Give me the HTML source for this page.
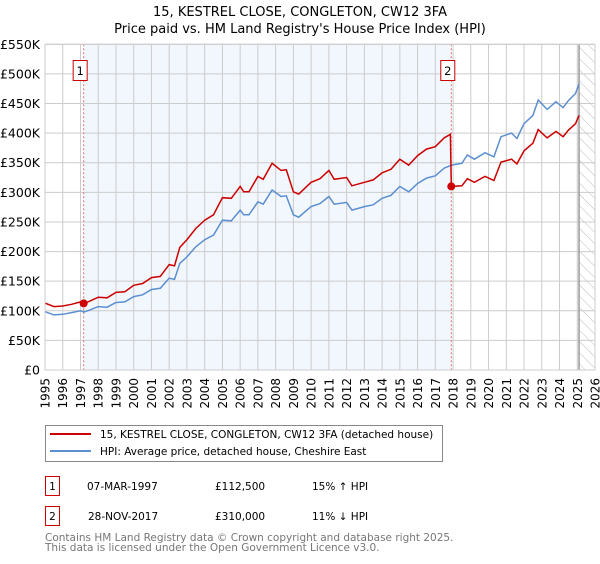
<!DOCTYPE html>
<html><head><meta charset="utf-8"><style>
body{margin:0;background:#fff;font-family:"DejaVu Sans","Liberation Sans",sans-serif;}
svg text{font-family:"DejaVu Sans","Liberation Sans",sans-serif;}
</style></head><body>
<svg id="c" width="600" height="560" viewBox="0 0 600 560">
<defs><pattern id="h" width="8" height="8" patternUnits="userSpaceOnUse" patternTransform="rotate(-45)"><line x1="0" y1="0" x2="0" y2="8" stroke="#bbb" stroke-width="1"/></pattern></defs>
<text x="300" y="16" text-anchor="middle" font-size="13">15, KESTREL CLOSE, CONGLETON, CW12 3FA</text>
<text x="300" y="33" text-anchor="middle" font-size="13">Price paid vs. HM Land Registry's House Price Index (HPI)</text>
<g id="plot"></g>
<g>
<rect x="45.5" y="425.5" width="397" height="36" fill="#fff" stroke="#888"/>
<line x1="50" y1="434" x2="91" y2="434" stroke="#cc0000" stroke-width="2"/>
<text x="100" y="438" font-size="10.5">15, KESTREL CLOSE, CONGLETON, CW12 3FA (detached house)</text>
<line x1="50" y1="451" x2="91" y2="451" stroke="#5b8fd0" stroke-width="2"/>
<text x="100" y="455" font-size="10.5">HPI: Average price, detached house, Cheshire East</text>
</g>
<g font-size="10.5">
<rect x="45.5" y="476.5" width="14" height="19" fill="#fff" stroke="#cc0000"/>
<text x="52.5" y="490" text-anchor="middle">1</text>
<text x="87" y="490">07-MAR-1997</text>
<text x="215" y="490">£112,500</text>
<text x="312" y="490">15% ↑ HPI</text>
<rect x="45.5" y="506.5" width="14" height="19" fill="#fff" stroke="#cc0000"/>
<text x="52.5" y="520" text-anchor="middle">2</text>
<text x="88" y="520">28-NOV-2017</text>
<text x="215" y="520">£310,000</text>
<text x="312" y="520">11% ↓ HPI</text>
</g>
<text x="45" y="541" font-size="10.5" fill="#777">Contains HM Land Registry data © Crown copyright and database right 2025.</text>
<text x="45" y="551" font-size="10.5" fill="#777">This data is licensed under the Open Government Licence v3.0.</text>
</svg>
<script>
const hpiYears=[1995,1995.5,1996,1996.5,1997,1997.2,1997.5,1998,1998.5,1999,1999.5,2000,2000.5,2001,2001.5,2002,2002.3,2002.6,2003,2003.5,2004,2004.5,2005,2005.5,2006,2006.2,2006.5,2007,2007.3,2007.8,2008.3,2008.6,2009,2009.3,2010,2010.5,2011,2011.3,2012,2012.3,2013,2013.5,2014,2014.5,2015,2015.5,2016,2016.5,2017,2017.5,2017.85,2017.9,2018.5,2018.8,2019.2,2019.8,2020.3,2020.7,2021.3,2021.6,2022,2022.5,2022.8,2023.3,2023.8,2024.2,2024.5,2024.9,2025.1];
const hpiValues=[98.5,93,94,97,100,98,101,107,106,114,115,124,127,136,138,155,153,180,191,208,220,228,253,252,270,262,262,284,280,304,293,294,262,258,276,281,293,280,283,270,276,279,290,295,310,301,315,324,328,341,345,346,349,363,356,367,360,394,400,391,416,430,456,440,453,443,455,467,483];
const priceValues=[113,107,108,111,115,112.5,116,123,122,131,132,143,146,156,158,178,176,207,220,239,253,262,291,290,310,301,301,327,322,349,337,338,301,297,317,323,337,322,325,311,317,321,333,339,356,346,362,373,377,392,398,310,311,323,317,327,320,351,356,348,370,383,406,392,403,394,405,416,430];
const saleYears=[1997.18,2017.9];
const salePrices=[112.5,310];
const saleLabels=["1","2"];
const yTicks=[0,50,100,150,200,250,300,350,400,450,500,550];
const yTickLabels=["£0","£50K","£100K","£150K","£200K","£250K","£300K","£350K","£400K","£450K","£500K","£550K"];
const xTicks=[];for(let y=1995;y<=2026;y++)xTicks.push(y);

const L=45,R=595,T=44.3,B=370,X0=1995,X1=2026,YM=550;
const xs=v=>L+(v-X0)/(X1-X0)*(R-L);
const ys=v=>B-v/YM*(B-T);
const NS="http://www.w3.org/2000/svg";
const g=document.getElementById('plot');
function mk(tag,at,parent){const e=document.createElementNS(NS,tag);for(const k in at)e.setAttribute(k,at[k]);(parent||g).appendChild(e);return e;}
let e;
e=mk('rect',{x:xs(saleYears[0]),y:T,width:xs(saleYears[1])-xs(saleYears[0]),height:B-T,fill:'#f2f6fd'});


e=mk('rect',{x:xs(2025.1),y:T,width:R-xs(2025.1),height:B-T,fill:'url(#h)'});


xTicks.forEach(t=>{e=mk('line',{x1:xs(t),x2:xs(t),y1:T,y2:B,stroke:'#ccc','stroke-width':1});


e=mk('text',{x:0,y:0,'font-size':12,'text-anchor':'end',transform:`translate(${xs(t)+4.5},378) rotate(-90)`});e.textContent=t;

});
yTicks.forEach((t,i)=>{e=mk('line',{x1:L,x2:R,y1:ys(t),y2:ys(t),stroke:'#ccc','stroke-width':1});


e=mk('text',{x:40,y:ys(t)+4.5,'font-size':12.5,'text-anchor':'end'});e.textContent=yTickLabels[i];

});
e=mk('line',{x1:xs(2025.1),x2:xs(2025.1),y1:T,y2:B,stroke:'#999','stroke-width':1.5});


saleYears.forEach((s,i)=>{e=mk('line',{x1:xs(s),x2:xs(s),y1:T,y2:B,stroke:'#e07070','stroke-width':1,'stroke-dasharray':'2,2'});


e=mk('rect',{x:xs(s)-10.5,y:60.5,width:14,height:20,fill:'#fff',stroke:'#cc0000'});


e=mk('text',{x:xs(s)-3.5,y:75,'font-size':11.5,'text-anchor':'middle'});e.textContent=saleLabels[i];

});
e=mk('path',{d:hpiYears.map((y,i)=>(i?'L':'M')+xs(y).toFixed(1)+','+ys(hpiValues[i]).toFixed(1)).join(''),fill:'none',stroke:'#5b8fd0','stroke-width':1.5});


e=mk('path',{d:hpiYears.map((y,i)=>(i?'L':'M')+xs(y).toFixed(1)+','+ys(priceValues[i]).toFixed(1)).join(''),fill:'none',stroke:'#cc0000','stroke-width':1.5});


saleYears.forEach((s,i)=>{e=mk('circle',{cx:xs(s),cy:ys(salePrices[i]),r:4,fill:'#cc0000'});

});
e=mk('rect',{x:L,y:T,width:R-L,height:B-T,fill:'none',stroke:'#ccc'});


</script>
</body></html>
